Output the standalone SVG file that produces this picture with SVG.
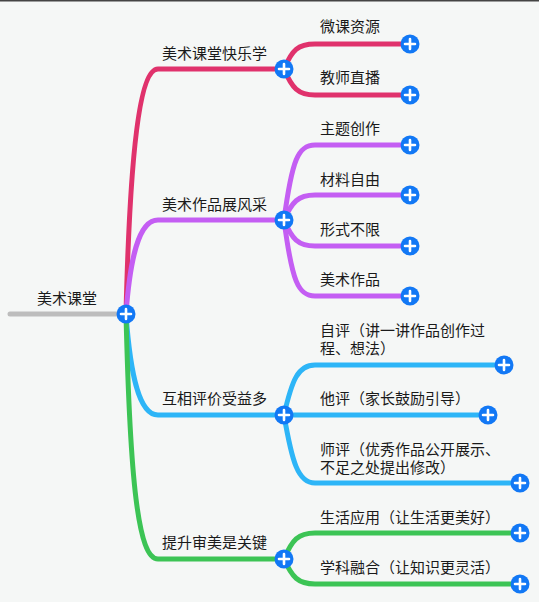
<svg xmlns="http://www.w3.org/2000/svg" xmlns:xlink="http://www.w3.org/1999/xlink" width="539" height="602" viewBox="0 0 539 602">
<style>
.t{font-family:"Noto Sans CJK SC","Noto Sans",sans-serif;font-size:15px;fill:#1a1a1a;}
.c{fill:none;stroke-width:5;stroke-linecap:round;stroke-linejoin:round;}
.r{stroke:#e0326c;}
.p{stroke:#c45ef3;}
.b{stroke:#2db5f7;}
.g{stroke:#3cc455;}
.k{stroke:#bdbdbd;}
</style>
<defs>
<g id="plus">
<circle r="9.5" fill="#1278f5"/>
<path d="M-5,0H5M0,-5V5" stroke="#fff" stroke-width="2.6" stroke-linecap="round"/>
</g>
</defs>
<rect width="539" height="602" fill="#f5f7f6"/>
<rect width="539" height="1.5" fill="#444"/>
<g id="connectors">
<path class="c k" d="M10,314H126"/>
<path class="c r" d="M126,314C130,150 140,69 158,69H284"/>
<path class="c p" d="M126,314C130,260 138,220 158,220H284"/>
<path class="c b" d="M126,314C130,370 138,415 158,415H284"/>
<path class="c g" d="M126,314C130,480 138,559 158,559H284"/>
<path class="c r" d="M284,69C292,50 298,44 315,44H410"/>
<path class="c r" d="M284,69C292,88 298,95 315,95H410"/>
<path class="c p" d="M284,220C292,160 298,145 315,145H410"/>
<path class="c p" d="M284,220C292,202 298,195 315,195H410"/>
<path class="c p" d="M284,220C292,239 298,246 315,246H410"/>
<path class="c p" d="M284,220C292,281 298,296 315,296H410"/>
<path class="c b" d="M284,415C292,380 298,365 315,365H504"/>
<path class="c b" d="M284,415H488"/>
<path class="c b" d="M284,415C292,462 298,483 315,483H520"/>
<path class="c g" d="M284,559C292,540 298,533 315,533H520"/>
<path class="c g" d="M284,559C292,577 298,584 315,584H520"/>
</g>
<g id="root"><text class="t" x="37" y="304">美术课堂</text><use xlink:href="#plus" x="126" y="314"/></g>
<g id="n1"><text class="t" x="162" y="59">美术课堂快乐学</text><use xlink:href="#plus" x="284" y="69"/></g>
<g id="n1a"><text class="t" x="320" y="32">微课资源</text><use xlink:href="#plus" x="410" y="44"/></g>
<g id="n1b"><text class="t" x="320" y="83">教师直播</text><use xlink:href="#plus" x="410" y="95"/></g>
<g id="n2"><text class="t" x="162" y="210">美术作品展风采</text><use xlink:href="#plus" x="284" y="220"/></g>
<g id="n2a"><text class="t" x="320" y="134">主题创作</text><use xlink:href="#plus" x="410" y="145"/></g>
<g id="n2b"><text class="t" x="320" y="185">材料自由</text><use xlink:href="#plus" x="410" y="195"/></g>
<g id="n2c"><text class="t" x="320" y="235">形式不限</text><use xlink:href="#plus" x="410" y="246"/></g>
<g id="n2d"><text class="t" x="320" y="285">美术作品</text><use xlink:href="#plus" x="410" y="296"/></g>
<g id="n3"><text class="t" x="162" y="404">互相评价受益多</text><use xlink:href="#plus" x="284" y="415"/></g>
<g id="n3a"><text class="t" x="320" y="336">自评（讲一讲作品创作过<tspan x="320" dy="18">程、想法）</tspan></text><use xlink:href="#plus" x="504" y="365"/></g>
<g id="n3b"><text class="t" x="320" y="404">他评（家长鼓励引导）</text><use xlink:href="#plus" x="488" y="415"/></g>
<g id="n3c"><text class="t" x="320" y="455">师评（优秀作品公开展示、<tspan x="320" dy="18">不足之处提出修改）</tspan></text><use xlink:href="#plus" x="520" y="483"/></g>
<g id="n4"><text class="t" x="162" y="548">提升审美是关键</text><use xlink:href="#plus" x="284" y="559"/></g>
<g id="n4a"><text class="t" x="320" y="523">生活应用（让生活更美好）</text><use xlink:href="#plus" x="520" y="533"/></g>
<g id="n4b"><text class="t" x="320" y="573">学科融合（让知识更灵活）</text><use xlink:href="#plus" x="520" y="584"/></g>
</svg>
